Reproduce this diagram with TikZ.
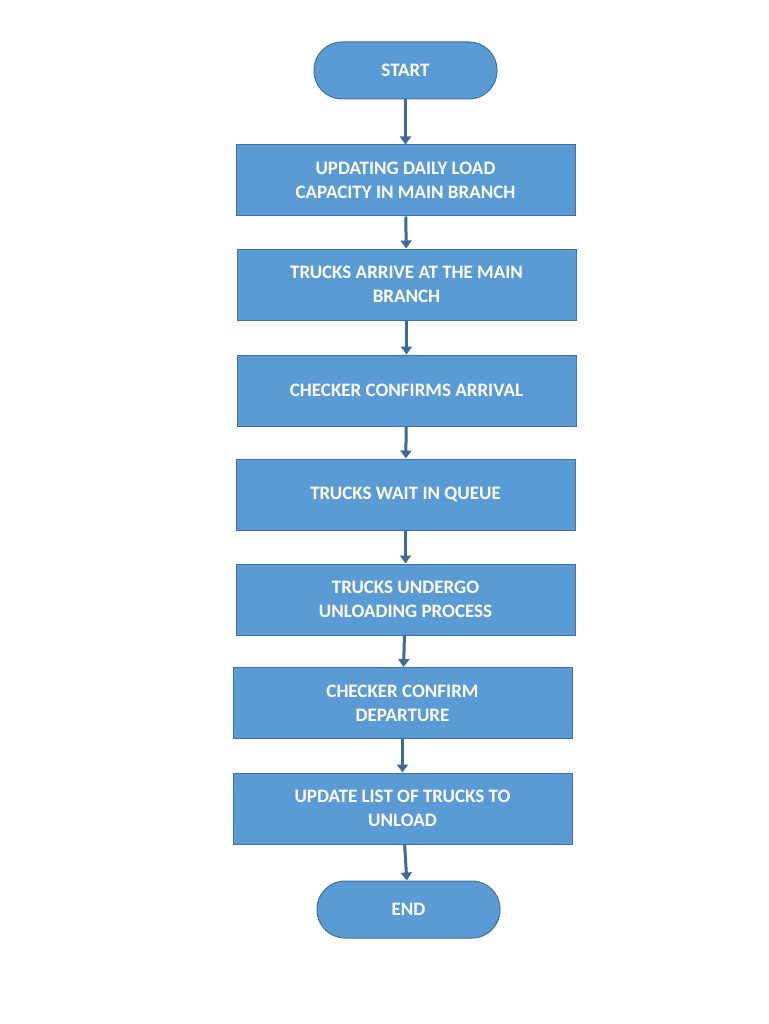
\documentclass[tikz,border=0pt]{standalone}
\usepackage{fontspec}
\setmainfont{Carlito}
\usetikzlibrary{arrows.meta}
\definecolor{boxfill}{HTML}{5B9BD5}
\definecolor{boxline}{HTML}{41719C}
\definecolor{arr}{HTML}{3E6A94}
\begin{document}
\begin{tikzpicture}[x=1pt,y=-1pt,
  box/.style={draw=boxline,line width=1pt,fill=boxfill,text=white,font=\bfseries\fontsize{19}{24}\selectfont,align=center,minimum width=339pt,minimum height=71pt,inner sep=2pt},
  term/.style={box,rounded corners=28pt,minimum width=183pt,minimum height=57pt},
  conn/.style={arr,line width=3pt,-{Triangle[length=8pt,width=11pt]}}]
\useasboundingbox (0,0) rectangle (768,1024);
\node[term] (s) at (405.5,70.5) {START};
\node[box] (b1) at (405.5,180.5) {UPDATING DAILY LOAD\\CAPACITY IN MAIN BRANCH};
\node[box] (b2) at (406.5,284.5) {TRUCKS ARRIVE AT THE MAIN\\BRANCH};
\node[box] (b3) at (406.5,390.5) {CHECKER CONFIRMS ARRIVAL};
\node[box] (b4) at (405.5,494.5) {TRUCKS WAIT IN QUEUE};
\node[box] (b5) at (405.5,599.5) {TRUCKS UNDERGO\\UNLOADING PROCESS};
\node[box] (b6) at (402.5,703) {CHECKER CONFIRM\\DEPARTURE};
\node[box] (b7) at (402.5,808.5) {UPDATE LIST OF TRUCKS TO\\UNLOAD};
\node[term] (e) at (408.5,909.5) {END};
\draw[conn] (s) -- (b1);
\draw[conn] (b1) -- (b2);
\draw[conn] (b2) -- (b3);
\draw[conn] (b3) -- (b4);
\draw[conn] (b4) -- (b5);
\draw[conn] (b5) -- (b6);
\draw[conn] (b6) -- (b7);
\draw[conn] (b7) -- (e);
\end{tikzpicture}
\end{document}
